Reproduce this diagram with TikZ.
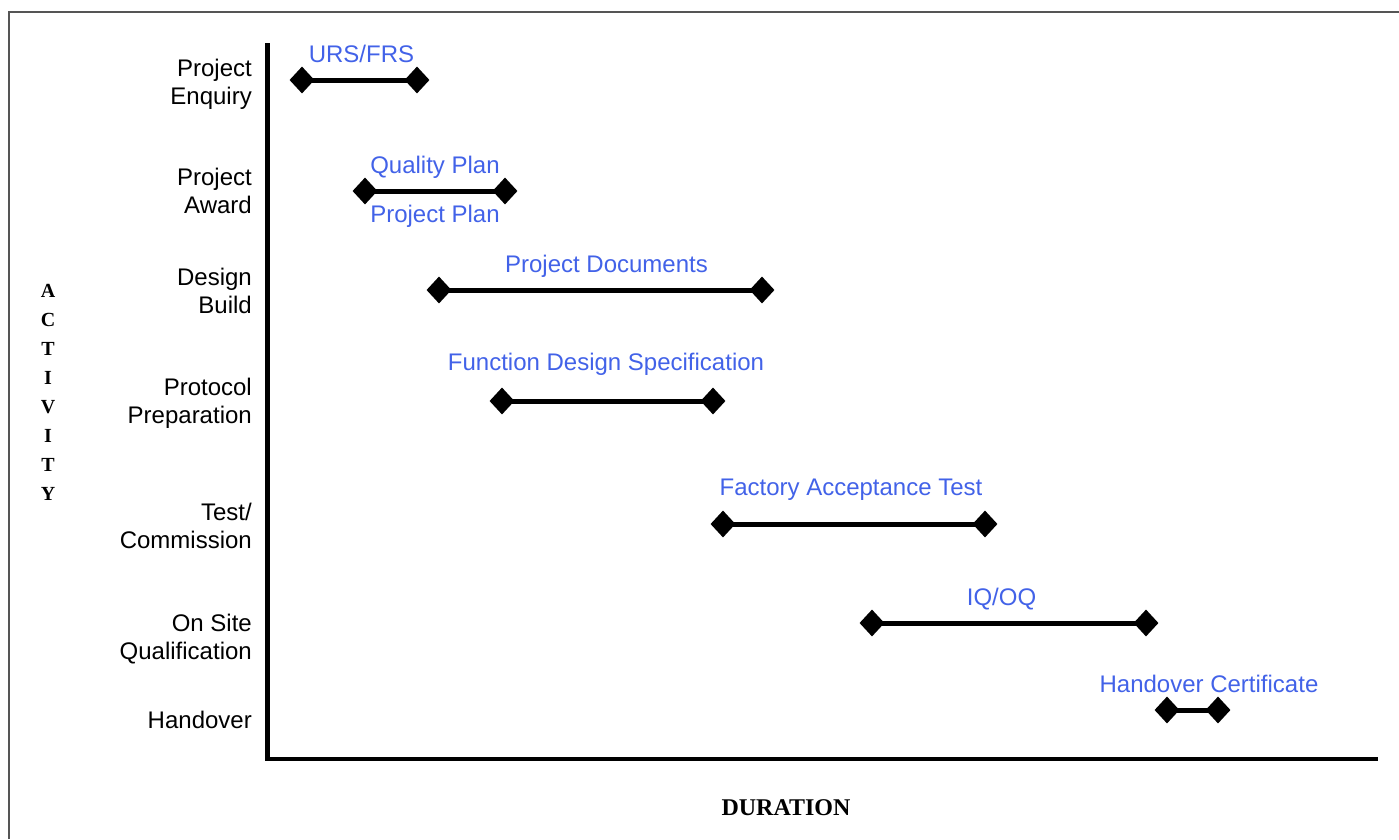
\documentclass[tikz,border=0pt]{standalone}
\usepackage{fontspec}
\setmainfont{Liberation Sans}
\newfontfamily\timesfont{Liberation Serif}
\usetikzlibrary{shapes.geometric}
\definecolor{lblblue}{RGB}{66,98,232}
\definecolor{framegray}{RGB}{85,85,85}
\tikzset{
  act/.style={anchor=base east, align=right, inner sep=0pt, font=\fontsize{24}{28.5}\selectfont},
  doc/.style={anchor=base, inner sep=0pt, text=lblblue, font=\fontsize{24}{28}\selectfont},
  dia/.style={diamond, fill=black, inner sep=0pt, minimum width=25pt, minimum height=27pt},
  bar/.style={line width=5pt, black},
  axis/.style={line width=4.5pt, black, line join=miter},
  axlabel/.style={inner sep=0pt, font=\timesfont\bfseries\fontsize{20}{29}\selectfont}
}
\begin{document}
\begin{tikzpicture}[x=1pt,y=-1pt]
\useasboundingbox (0,0) rectangle (1399,839);
% frame
\coordinate (f1) at (9,839);
\coordinate (f2) at (9,12);
\coordinate (f3) at (1399,12);
\draw[framegray, line width=2.5pt] (f1) -- (f2) -- (f3);
% axes
\coordinate (ytop) at (267.5,43);
\coordinate (orig) at (267.5,759);
\coordinate (xend) at (1378,759);
\draw[axis] (ytop) -- (orig) -- (xend);
% axis labels (base anchor = baseline of last line)
\node[axlabel, align=center, anchor=base] (act) at (48,500) {A\\C\\T\\I\\V\\I\\T\\Y};
\node[axlabel, anchor=base, font=\timesfont\bfseries\fontsize{24}{28}\selectfont] (dur) at (786,815) {DURATION};
% activity labels (base anchor = baseline of last line)
\node[act] (a1) at (252,104.5) {Project\\Enquiry};
\node[act] (a2) at (252,213.5) {Project\\Award};
\node[act] (a3) at (252,313.5) {Design\\Build};
\node[act] (a4) at (252,423.5) {Protocol\\Preparation};
\node[act] (a5) at (252,548.5) {Test/\\Commission};
\node[act] (a6) at (252,659.5) {On Site\\Qualification};
\node[act] (a7) at (252,728) {Handover};
% bars
\node[dia] (s1) at (302,80) {};   \node[dia] (e1) at (417,80) {};
\node[dia] (s2) at (365,191) {};  \node[dia] (e2) at (505,191) {};
\node[dia] (s3) at (439,290) {};  \node[dia] (e3) at (762,290) {};
\node[dia] (s4) at (502,401) {};  \node[dia] (e4) at (713,401) {};
\node[dia] (s5) at (723,524) {};  \node[dia] (e5) at (985,524) {};
\node[dia] (s6) at (872,623) {};  \node[dia] (e6) at (1146,623) {};
\node[dia] (s7) at (1167,710) {}; \node[dia] (e7) at (1218,710) {};
\foreach \i in {1,...,7} { \draw[bar] (s\i.center) -- (e\i.center); }
% document labels
\node[doc] (d1) at (361.5,62) {URS/FRS};
\node[doc] (d2a) at (435,173) {Quality Plan};
\node[doc] (d2b) at (435,222) {Project Plan};
\node[doc] (d3) at (606.5,272) {Project Documents};
\node[doc] (d4) at (606,370) {Function Design Specification};
\node[doc] (d5) at (851,495) {Factory Acceptance Test};
\node[doc] (d6) at (1001.5,605) {IQ/OQ};
\node[doc] (d7) at (1209,692) {Handover Certificate};
\end{tikzpicture}
\end{document}
